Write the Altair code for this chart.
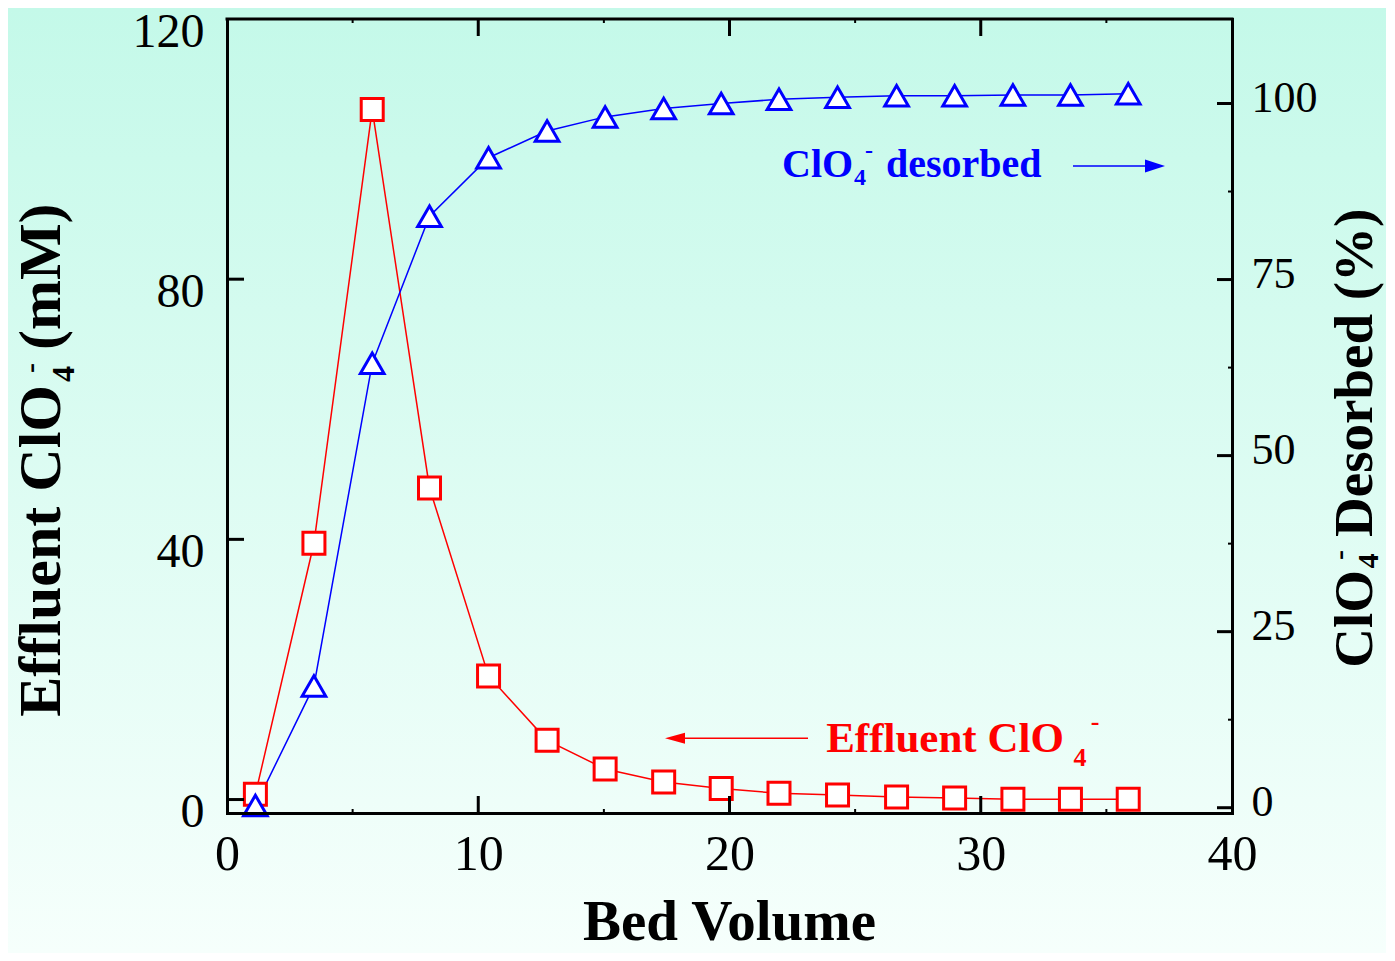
import altair as alt
import pandas as pd

# ---------------- data ----------------
bed_volume = [1.13, 3.46, 5.78, 8.06, 10.41, 12.74, 15.05, 17.38, 19.67,
              21.97, 24.30, 26.65, 28.96, 31.28, 33.57, 35.87]
effluent_mM = [0.8, 39.4, 106.1, 47.9, 19.0, 9.1, 4.7, 2.7, 1.7,
               0.95, 0.7, 0.4, 0.25, 0.05, 0.05, 0.05]
desorbed_pct = [0.3, 17.3, 63.1, 84.0, 92.3, 96.1, 98.1, 99.3, 100.0,
                100.6, 100.9, 101.1, 101.1, 101.2, 101.2, 101.4]

x_labels = [0, 10, 20, 30, 40]
left_labels = [0, 40, 80, 120]
right_labels = [0, 25, 50, 75, 100]
x_major_ticks = [10, 20, 30]
x_minor_ticks = [5, 15, 25, 35]
left_major_ticks = [0, 40, 80]
right_major_ticks = [0, 25, 50, 75, 100]
right_minor_ticks = [12.5, 37.5, 62.5, 87.5]

# ---------------- layout / style ----------------
W, H = 1005, 794
PAD_B = 140
SERIF = "Liberation Serif"
RED = "#FF0000"
BLUE = "#0000FF"

df = pd.DataFrame({"bv": bed_volume, "eff": effluent_mM, "des": desorbed_pct})
one = pd.DataFrame({"k": [0]})

x_scale = alt.Scale(domain=[0, 40], nice=False, zero=False)
red_scale = alt.Scale(domain=[-2.07, 120], nice=False, zero=False)
blue_scale = alt.Scale(domain=[-0.75, 112], nice=False, zero=False)

x_axis = alt.Axis(orient="bottom", values=x_labels, title=None, ticks=False, tickSize=0,
                  grid=False, domainColor="black", domainWidth=3, domainCap="square",
                  labelFont=SERIF, labelFontSize=50, labelColor="black",
                  labelPadding=16, labelBaseline="top", labelAlign="center",
                  labelFlush=False, labelOverlap=False, zindex=1)
left_axis = alt.Axis(orient="left", values=left_labels, title=None, ticks=False, tickSize=0,
                     grid=False, domainColor="black", domainWidth=3, domainCap="square",
                     labelFont=SERIF, labelFontSize=48, labelColor="black",
                     labelPadding=23, labelOffset=13, labelBaseline="middle",
                     labelFlush=False, labelOverlap=False, zindex=1)
right_axis = alt.Axis(orient="right", values=right_labels, title=None, ticks=False, tickSize=0,
                      grid=False, domainColor="black", domainWidth=3, domainCap="square",
                      labelFont=SERIF, labelFontSize=44, labelColor="black",
                      labelPadding=19, labelOffset=-5.5, labelBaseline="middle",
                      labelFlush=False, labelOverlap=False, zindex=1)

X = alt.X("bv:Q", scale=x_scale, axis=x_axis)

# background gradient
grad = alt.LinearGradient(gradient="linear",
                          stops=[alt.GradientStop(color="#C4F9E9", offset=0),
                                 alt.GradientStop(color="#F6FFFC", offset=1)],
                          x1=0, x2=0, y1=0, y2=1)
bg = alt.Chart(one).mark_rect(color=grad).encode(
    x=alt.value(-219), x2=alt.value(W + 154), y=alt.value(-11), y2=alt.value(H + PAD_B))

top_frame = alt.Chart(one).mark_rule(color="black", strokeWidth=3, strokeCap="square").encode(
    x=alt.value(0), x2=alt.value(W), y=alt.value(0))

red_line = alt.Chart(df).mark_line(color=RED, strokeWidth=1.5).encode(
    x=X, y=alt.Y("eff:Q", scale=red_scale, axis=None))
blue_line = alt.Chart(df).mark_line(color=BLUE, strokeWidth=1.5).encode(
    x=X, y=alt.Y("des:Q", scale=blue_scale, axis=None))
red_pts = alt.Chart(df).mark_point(shape="square", size=484, filled=True, fill="white",
                                   stroke=RED, strokeWidth=3, opacity=1).encode(
    x=X, y=alt.Y("eff:Q", scale=red_scale, axis=left_axis))
blue_pts = alt.Chart(df).mark_point(shape="triangle-up", size=560, filled=True, fill="white",
                                    stroke=BLUE, strokeWidth=3, opacity=1).encode(
    x=X, y=alt.Y("des:Q", scale=blue_scale, axis=right_axis))


# inward ticks
def df_of(v):
    return pd.DataFrame({"tv": v})


TX = alt.X("tv:Q", scale=x_scale, axis=x_axis)
bottom_major = alt.Chart(df_of(x_major_ticks)).mark_rule(color="black", strokeWidth=3).encode(
    x=TX, y=alt.value(H - 17), y2=alt.value(H))
bottom_minor = alt.Chart(df_of(x_minor_ticks)).mark_rule(color="black", strokeWidth=2).encode(
    x=TX, y=alt.value(H - 4), y2=alt.value(H))
top_major = alt.Chart(df_of(x_major_ticks)).mark_rule(color="black", strokeWidth=3).encode(
    x=TX, y=alt.value(0), y2=alt.value(17))
top_minor = alt.Chart(df_of(x_minor_ticks)).mark_rule(color="black", strokeWidth=2).encode(
    x=TX, y=alt.value(0), y2=alt.value(4))
left_ticks = alt.Chart(df_of(left_major_ticks)).mark_rule(color="black", strokeWidth=3).encode(
    y=alt.Y("tv:Q", scale=red_scale, axis=None), x=alt.value(0), x2=alt.value(17))
right_ticks = alt.Chart(df_of(right_major_ticks)).mark_rule(color="black", strokeWidth=3).encode(
    y=alt.Y("tv:Q", scale=blue_scale, axis=None), x=alt.value(W - 15), x2=alt.value(W))
right_mticks = alt.Chart(df_of(right_minor_ticks)).mark_rule(color="black", strokeWidth=2).encode(
    y=alt.Y("tv:Q", scale=blue_scale, axis=None), x=alt.value(W - 4), x2=alt.value(W))


# text helpers (page coords -> plot coords)
def txt(s, px, py, size, color="black", align="left", baseline="alphabetic", angle=0):
    return alt.Chart(one).mark_text(text=s, font=SERIF, fontSize=size, fontWeight="bold",
                                    color=color, align=align, baseline=baseline,
                                    angle=angle).encode(
        x=alt.value(px - 227), y=alt.value(py - 19))


def arrow(x_from, x_to, py, color, head_shape, head_x):
    line = alt.Chart(one).mark_rule(color=color, strokeWidth=1.5).encode(
        x=alt.value(x_from - 227), x2=alt.value(x_to - 227), y=alt.value(py - 19))
    head = alt.Chart(one).mark_point(shape=head_shape, size=400, filled=True, color=color,
                                     opacity=1).encode(
        x=alt.value(head_x - 227), y=alt.value(py - 19))
    return [line, head]


texts = [
    # x-axis title
    txt("Bed Volume", 729.5, 940, 57, align="center"),
    # left axis title (rotated)
    txt("Effluent ClO", 60, 385, 60, align="right", angle=270),
    txt("4", 64, 374, 32, align="center", baseline="middle", angle=270),
    txt("-", 31, 368, 30, align="center", baseline="middle", angle=270),
    txt("(mM)", 60, 350, 60, align="left", angle=270),
    # right axis title (rotated)
    txt("ClO", 1372, 570, 55, align="right", angle=270),
    txt("4", 1369, 561, 30, align="center", baseline="middle", angle=270),
    txt("-", 1340, 555, 30, align="center", baseline="middle", angle=270),
    txt("Desorbed (%)", 1372, 537, 55, align="left", angle=270),
    # blue annotation
    txt("ClO", 782, 176.7, 40, color=BLUE),
    txt("4", 860, 178, 24, color=BLUE, align="center", baseline="middle"),
    txt("-", 869, 151, 24, color=BLUE, align="center", baseline="middle"),
    txt("desorbed", 886, 176.7, 40, color=BLUE),
    # red annotation
    txt("Effluent ClO", 945, 751.7, 43, color=RED, align="center"),
    txt("4", 1080, 757.5, 26, color=RED, align="center", baseline="middle"),
    txt("-", 1095, 722, 26, color=RED, align="center", baseline="middle"),
]

arrows = (arrow(1073, 1147, 166, BLUE, "M1,0L-1,-0.65L-1,0.65Z", 1155)
          + arrow(808, 683, 738.3, RED, "M-1,0L1,-0.55L1,0.55Z", 675))

chart = alt.layer(
    bg, top_frame,
    red_line, blue_line, red_pts, blue_pts,
    bottom_major, bottom_minor, top_major, top_minor,
    left_ticks, right_ticks, right_mticks,
    *texts, *arrows,
).resolve_scale(y="independent").properties(
    width=W, height=H,
    padding={"left": 219, "top": 11, "right": 154, "bottom": PAD_B},
    autosize=alt.AutoSizeParams(type="none"),
).configure_view(stroke=None).configure(background="#F6FFFC")

chart.save("out.html", embed_options={"renderer": "svg", "actions": False})
